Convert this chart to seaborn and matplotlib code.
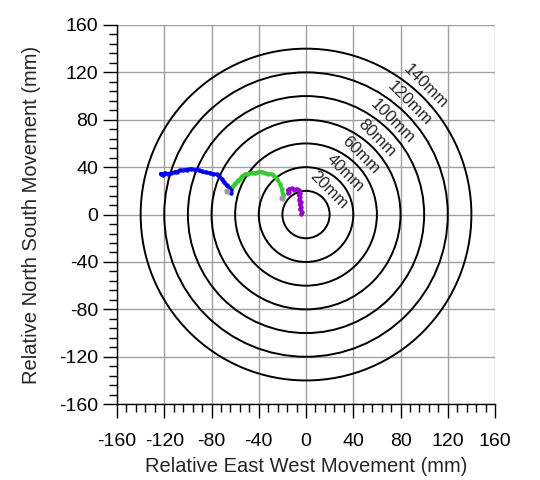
import matplotlib
matplotlib.use('Agg')
import matplotlib.pyplot as plt
from matplotlib.patches import Circle
from matplotlib.ticker import MultipleLocator
import numpy as np
import pandas as pd
import seaborn as sns

# tracks (mm)
purple_x = [-4, -3.5, -5, -4.2, -5.5, -4.5, -5.8, -5, -6.2, -5, -6, -8, -10.5, -12, -14, -15.5, -14.5, -15]
purple_y = [0.5, 2.5, 4.5, 6.5, 8.5, 10.5, 12.5, 14.5, 16.5, 18.5, 20.5, 21.5, 21, 22, 21.5, 20.5, 19, 18]
green_x = [-19.2, -19.8, -20.6, -22, -24.8, -27, -29, -32, -34.7, -37.5, -40.4, -43, -46, -49, -51.7, -54, -55.9, -58, -60.2, -62, -63]
green_y = [15.3, 17.5, 21.8, 26, 30.2, 32.5, 33.9, 34.5, 35, 36.2, 35.8, 35.2, 35, 34.5, 33.9, 32.5, 30.2, 28.5, 26, 24, 23.1]
blue_x = [-63.6, -63.6, -65, -67.2, -69.5, -71.5, -73.5, -75.7, -78.5, -81.4, -85, -88.4, -91, -94, -97.5, -101, -104, -106.8, -109, -111, -114, -116.7, -119.5, -122.3, -121, -123]
blue_y = [18, 20.9, 22.5, 24.6, 27.5, 30.2, 32.5, 33.9, 34.2, 35, 35.6, 36.4, 37.5, 37.9, 38.5, 37.9, 37.2, 37.3, 36, 35.8, 34.8, 34.5, 34.8, 33.9, 33, 34.5]
gray_x = [-20.6, -66.5]
gray_y = [13.8, 19.5]

radii = [20, 40, 60, 80, 100, 120, 140]
ring_labels = ['20mm', '40mm', '60mm', '80mm', '100mm', '120mm', '140mm']
ticks = [-160, -120, -80, -40, 0, 40, 80, 120, 160]

sns.set_style('ticks')
plt.rcParams['font.family'] = ['Liberation Sans', 'DejaVu Sans']
plt.rcParams['axes.unicode_minus'] = False

fig = plt.figure(figsize=(5.4, 4.8), dpi=100)
ax = fig.add_axes([0.2167, 0.158, 0.7, 0.79])

ax.set_xlim(-160, 160)
ax.set_ylim(-160, 160)
ax.set_xticks(ticks)
ax.set_yticks(ticks)
ax.xaxis.set_minor_locator(MultipleLocator(8))
ax.yaxis.set_minor_locator(MultipleLocator(8))
ax.grid(True, which='major', color='#a0a0a0', linewidth=1.0, zorder=0)
ax.set_axisbelow(True)

for r in radii:
    ax.add_patch(Circle((0, 0), r, fill=False, edgecolor='black', linewidth=1.4, zorder=2))

for r, lab in zip(radii, ring_labels):
    a = np.deg2rad(47)
    d = r + 8
    ax.text(d * np.cos(a), d * np.sin(a), lab, rotation=-45, ha='center', va='center',
            fontsize=12, zorder=3)

tracks = [(purple_x, purple_y, '#9900cc'), (green_x, green_y, '#33cc33'), (blue_x, blue_y, '#0000ee')]
for xs, ys, c in tracks:
    df = pd.DataFrame({'x': xs, 'y': ys})
    sns.lineplot(data=df, x='x', y='y', sort=False, estimator=None, color=c,
                 linewidth=2.6, marker='o', markersize=3.2, markeredgewidth=0, ax=ax, zorder=4)

ax.scatter(gray_x, gray_y, s=20, color='#999999', zorder=5, linewidths=0)

ax.spines['top'].set_visible(False)
ax.spines['right'].set_visible(False)
for s in ['left', 'bottom']:
    ax.spines[s].set_linewidth(1.0)
    ax.spines[s].set_color('black')

ax.tick_params(which='major', direction='out', length=10, width=1, labelsize=14, colors='black')
ax.tick_params(which='minor', direction='out', length=5.5, width=1, color='black')
ax.tick_params(axis='x', which='major', pad=10.5)

ax.set_xlabel('Relative East West Movement (mm)', fontsize=14.5, labelpad=5)
ax.set_ylabel('Relative North South Movement (mm)', fontsize=14.5, labelpad=13)

fig.savefig('out.png', dpi=100)
